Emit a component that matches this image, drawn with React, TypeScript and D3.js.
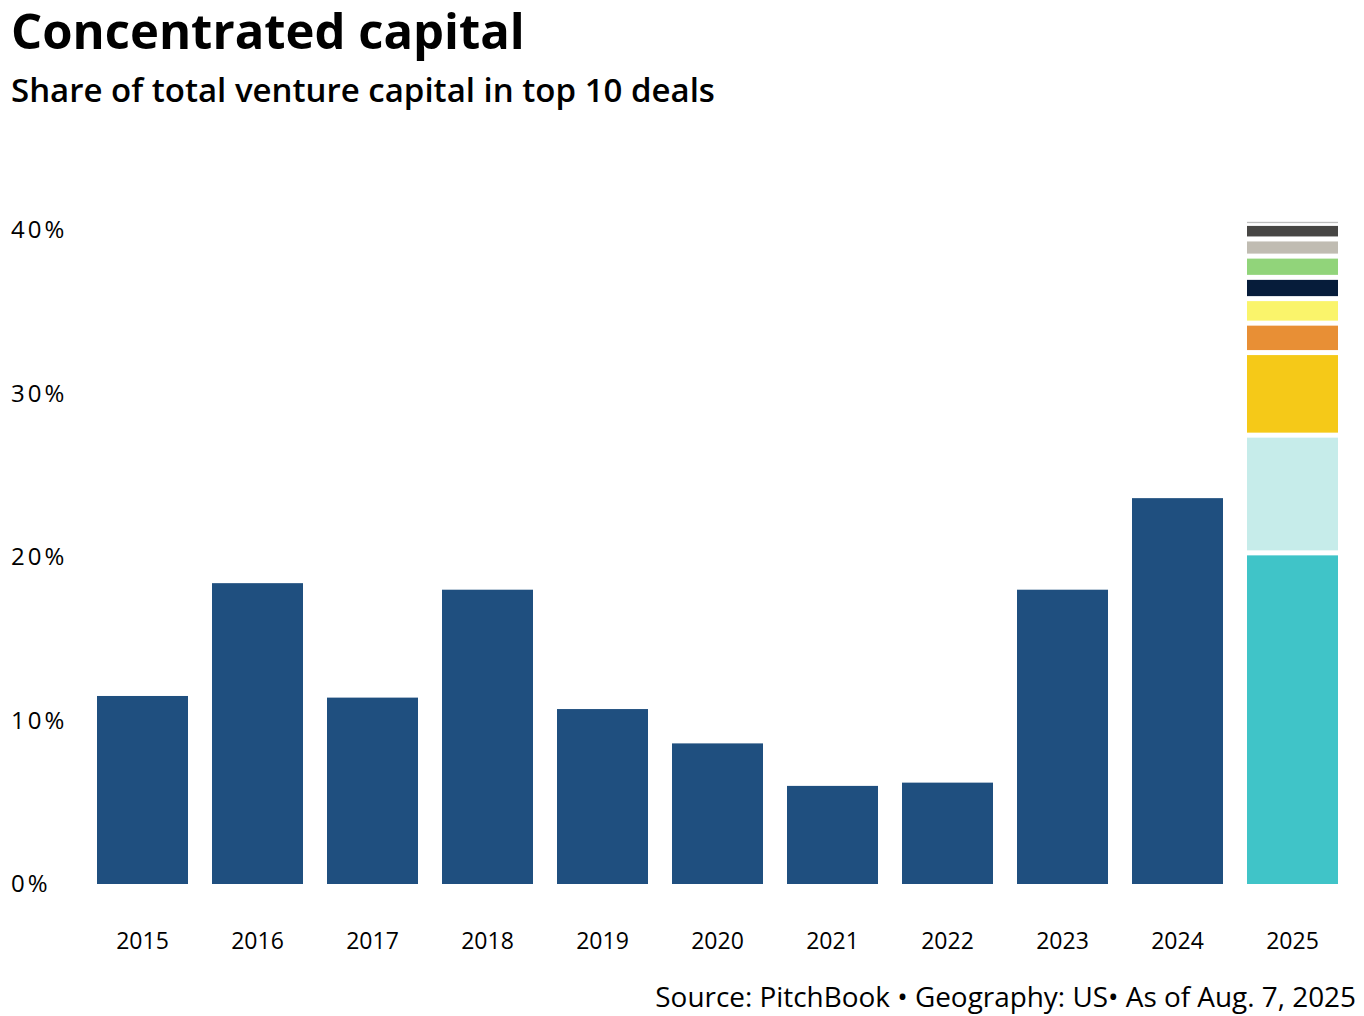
import React from "react";
import * as d3 from "d3";

const years = ["2015", "2016", "2017", "2018", "2019", "2020", "2021", "2022", "2023", "2024", "2025"];
const shares = [11.5, 18.4, 11.4, 18.0, 10.7, 8.6, 6.0, 6.2, 18.0, 23.6, null];
const deals2025 = [20.1, 7.2, 5.05, 1.8, 1.5, 1.3, 1.3, 1.05, 0.95, 0.25];
const dealColors = ["#40C4C8", "#C6ECEA", "#F5C918", "#E88F35", "#FAF46B", "#061C3A", "#91D47A", "#C0BCB2", "#474644", "#BDBDBD"];
const yTicks = [0, 10, 20, 30, 40];

const W = 1364;
const H = 1016;
const FONT = "'Open Sans', sans-serif";

export default function App() {
  const x = d3.scaleBand<string>().domain(years).range([85, 1350]).paddingInner(24 / 115).paddingOuter(12 / 115);
  const y = d3.scaleLinear().domain([0, 40]).range([884, 230]);
  const gap = 5;

  let cum = 0;
  const stack = deals2025.map((v, i) => {
    const y0 = cum;
    cum += v;
    return { y0, y1: cum, color: dealColors[i], i };
  });

  return (
    <svg width={W} height={H} style={{ position: "absolute", left: 0, top: 0, background: "#fff" }}>
      <text x={11} y={49} fontFamily={FONT} fontWeight={700} fontSize={49} fill="#000">Concentrated capital</text>
      <text x={11} y={102} fontFamily={FONT} fontWeight={600} fontSize={33} fill="#000">Share of total venture capital in top 10 deals</text>

      {yTicks.map((t) => (
        <text key={t} x={11} y={y(t)} dy="0.35em" fontFamily={FONT} fontSize={24} letterSpacing={3} fill="#000">{t}%</text>
      ))}

      {years.map((yr, i) =>
        shares[i] != null ? (
          <rect key={yr} x={x(yr)} y={y(shares[i] as number)} width={x.bandwidth()} height={y(0) - y(shares[i] as number)} fill="#1F4F7F" />
        ) : null
      )}

      {stack.map((s) => {
        const top = y(s.y1);
        const bottom = s.i === 0 ? y(s.y0) : y(s.y0) - gap;
        const h = Math.max(1.3, bottom - top);
        return <rect key={s.i} x={x("2025")} y={top} width={x.bandwidth()} height={h} fill={s.color} />;
      })}

      {years.map((yr) => (
        <text key={yr} x={(x(yr) as number) + x.bandwidth() / 2} y={941} dy="0.35em" textAnchor="middle" fontFamily={FONT} fontSize={23} fill="#000">{yr}</text>
      ))}

      <text x={1356} y={1007} textAnchor="end" fontFamily={FONT} fontSize={27.9} fill="#000">Source: PitchBook • Geography: US• As of Aug. 7, 2025</text>
    </svg>
  );
}
